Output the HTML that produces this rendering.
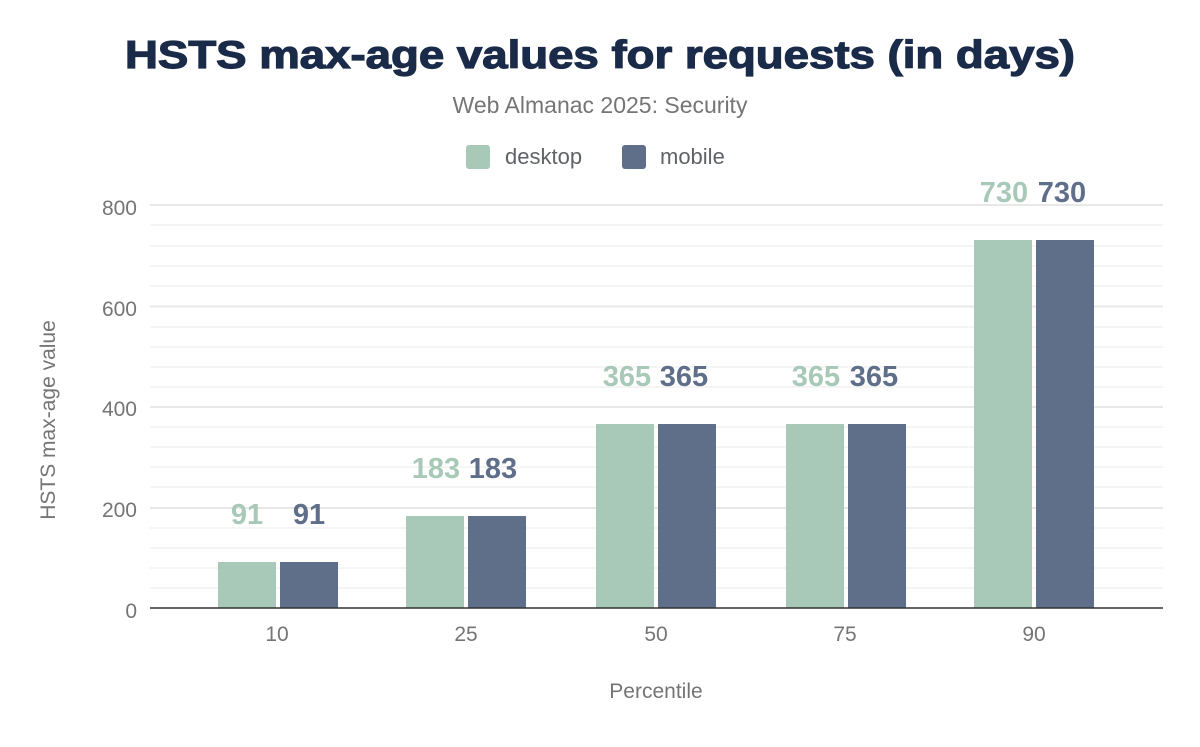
<!DOCTYPE html>
<html><head><meta charset="utf-8"><style>
body{margin:0;background:#fff;}
svg text{font-family:"Liberation Sans",Arial,sans-serif;}
</style></head><body>
<svg width="1200" height="742" viewBox="0 0 1200 742" xmlns="http://www.w3.org/2000/svg">
<rect width="1200" height="742" fill="#fff"/>
<text x="600" y="68" text-anchor="middle" font-size="39" font-weight="900" fill="#1a2b49" stroke="#1a2b49" stroke-width="1.2" textLength="950" lengthAdjust="spacingAndGlyphs">HSTS max-age values for requests (in days)</text>
<text x="600" y="113" text-anchor="middle" font-size="23" fill="#757575">Web Almanac 2025: Security</text>
<rect x="466" y="145" width="24" height="24" rx="3" fill="#a8c9b8"/>
<text x="505" y="164" font-size="22" fill="#5f6368">desktop</text>
<rect x="622" y="145" width="24" height="24" rx="3" fill="#5f6e89"/>
<text x="660" y="164" font-size="22" fill="#5f6368">mobile</text>
<g stroke="#f2f2f2" stroke-width="1.5">
<line x1="150" x2="1163" y1="588" y2="588"/><line x1="150" x2="1163" y1="568" y2="568"/><line x1="150" x2="1163" y1="548" y2="548"/><line x1="150" x2="1163" y1="528" y2="528"/>
<line x1="150" x2="1163" y1="487" y2="487"/><line x1="150" x2="1163" y1="467" y2="467"/><line x1="150" x2="1163" y1="447" y2="447"/><line x1="150" x2="1163" y1="427" y2="427"/>
<line x1="150" x2="1163" y1="387" y2="387"/><line x1="150" x2="1163" y1="367" y2="367"/><line x1="150" x2="1163" y1="347" y2="347"/><line x1="150" x2="1163" y1="327" y2="327"/>
<line x1="150" x2="1163" y1="286" y2="286"/><line x1="150" x2="1163" y1="266" y2="266"/><line x1="150" x2="1163" y1="246" y2="246"/><line x1="150" x2="1163" y1="225" y2="225"/>
</g>
<g stroke="#e8e8e8" stroke-width="2">
<line x1="150" x2="1163" y1="205" y2="205"/><line x1="150" x2="1163" y1="306.5" y2="306.5"/><line x1="150" x2="1163" y1="407" y2="407"/><line x1="150" x2="1163" y1="508" y2="508"/>
</g>
<g font-size="21" fill="#757575" text-anchor="end">
<text x="137" y="215">800</text><text x="137" y="316">600</text><text x="137" y="416">400</text><text x="137" y="517">200</text><text x="137" y="618">0</text>
</g>
<text transform="translate(55,420) rotate(-90)" text-anchor="middle" font-size="21" fill="#757575">HSTS max-age value</text>
<g fill="#a8c9b8">
<rect x="218" y="562" width="58" height="46"/><rect x="406" y="516" width="58" height="92"/><rect x="596" y="424" width="58" height="184"/><rect x="786" y="424" width="58" height="184"/><rect x="974" y="240" width="58" height="368"/>
</g>
<g fill="#5f6e89">
<rect x="280" y="562" width="58" height="46"/><rect x="468" y="516" width="58" height="92"/><rect x="658" y="424" width="58" height="184"/><rect x="848" y="424" width="58" height="184"/><rect x="1036" y="240" width="58" height="368"/>
</g>
<line x1="150" x2="1163" y1="608" y2="608" stroke="#333" stroke-width="1.5"/>
<g font-size="21" fill="#757575" text-anchor="middle">
<text x="277" y="641">10</text><text x="466" y="641">25</text><text x="656" y="641">50</text><text x="845" y="641">75</text><text x="1034" y="641">90</text>
</g>
<text x="656" y="698" text-anchor="middle" font-size="21" fill="#757575">Percentile</text>
<g font-size="29" font-weight="bold">
<text x="247" y="524" text-anchor="middle" fill="#a8c9b8">91</text><text x="309" y="524" text-anchor="middle" fill="#5f6e89">91</text>
<text x="436" y="478" text-anchor="middle" fill="#a8c9b8">183</text><text x="493" y="478" text-anchor="middle" fill="#5f6e89">183</text>
<text x="627" y="386" text-anchor="middle" fill="#a8c9b8">365</text><text x="684" y="386" text-anchor="middle" fill="#5f6e89">365</text>
<text x="816" y="386" text-anchor="middle" fill="#a8c9b8">365</text><text x="874" y="386" text-anchor="middle" fill="#5f6e89">365</text>
<text x="1004" y="202" text-anchor="middle" fill="#a8c9b8">730</text><text x="1062" y="202" text-anchor="middle" fill="#5f6e89">730</text>
</g>
</svg>
</body></html>
